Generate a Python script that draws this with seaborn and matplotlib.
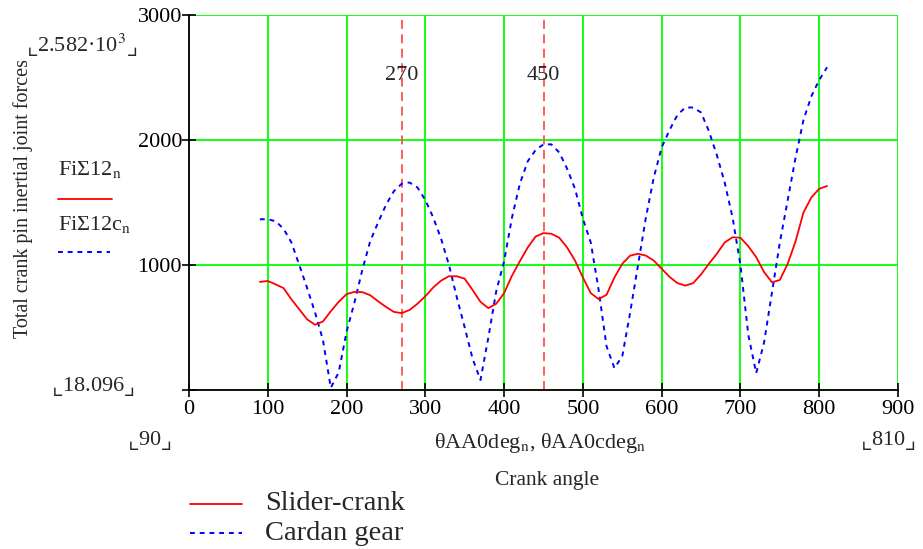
import pandas as pd
import matplotlib
matplotlib.use('Agg')  # no display
import matplotlib.pyplot as plt
from matplotlib.lines import Line2D
import seaborn as sns

# =========================
# Data
# =========================
angle = list(range(90, 811, 10))

slider_crank = [865, 872, 845, 815, 725, 645, 565, 522, 548, 630,
                705, 767, 785, 783, 758, 710, 665, 625, 615, 640,
                690, 750, 820, 875, 910, 910, 890, 800, 705, 655,
                690, 775, 915, 1030, 1140, 1228, 1255, 1250, 1218, 1140,
                1035, 900, 775, 727, 762, 900, 1010, 1075, 1090, 1075,
                1035, 970, 905, 855, 835, 855, 925, 1010, 1090, 1180,
                1222, 1218, 1150, 1063, 943, 862, 880, 1010, 1190, 1420,
                1540, 1610, 1632]

cardan_gear = [1366, 1366, 1350, 1290, 1180, 1000, 815, 620, 400, 18,
               140, 465, 700, 960, 1190, 1340, 1480, 1590, 1650, 1660,
               1620, 1520, 1380, 1210, 1000, 740, 500, 250, 80, 420,
               790, 1030, 1380, 1650, 1830, 1920, 1965, 1965, 1900, 1770,
               1610, 1370, 1180, 800, 350, 175, 270, 620, 1000, 1380,
               1700, 1940, 2080, 2200, 2260, 2260, 2220, 2070, 1880, 1660,
               1380, 1000, 440, 135, 380, 780, 1180, 1520, 1860, 2160,
               2350, 2480, 2582]

marker_angles = [270, 450]
x_ticks = [0, 100, 200, 300, 400, 500, 600, 700, 800, 900]
y_ticks = [0, 1000, 2000, 3000]
y_tick_labels = ['', '1000', '2000', '3000']

RED = '#ff0000'
BLUE = '#0000ff'
GREEN = '#00ff00'

# =========================
# Style
# =========================
sns.set_style('white')
plt.rcParams['font.family'] = ['Liberation Serif', 'DejaVu Sans']
plt.rcParams['mathtext.fontset'] = 'stix'

W, H = 923, 549
fig = plt.figure(figsize=(W / 100, H / 100), dpi=100)
ax = fig.add_axes([189 / W, 1 - 390 / H, (898 - 189) / W, (390 - 15) / H])


def fx(px):
    return px / W


def fy(py):
    return 1 - py / H


df = pd.DataFrame({'angle': angle, 'slider': slider_crank, 'cardan': cardan_gear})

sns.lineplot(data=df, x='angle', y='slider', ax=ax, color=RED, lw=1.3,
             estimator=None, sort=False, zorder=4)
sns.lineplot(data=df, x='angle', y='cardan', ax=ax, color=BLUE, lw=1.4,
             linestyle=(0, (2.5, 2.5)), estimator=None, sort=False, zorder=3)

for a in marker_angles:
    ax.axvline(a, color='#ff5050', lw=1.3, ls=(0, (5, 3)), zorder=2)
    ax.text(a, 2516, str(a), ha='center', va='center', fontsize=16)

ax.set_xlim(0, 900)
ax.set_ylim(0, 3000)
ax.set_xticks(x_ticks)
ax.set_yticks(y_ticks)
ax.set_yticklabels(y_tick_labels)
ax.grid(True, color=GREEN, lw=1.3)
ax.set_axisbelow(True)
for s in ['top', 'right']:
    ax.spines[s].set_visible(False)
for s in ['left', 'bottom']:
    ax.spines[s].set_color('black')
    ax.spines[s].set_linewidth(1.3)
ax.tick_params(direction='inout', length=10, width=1.2, colors='black',
               labelsize=16, left=True, bottom=True)
ax.tick_params(axis='x', pad=2)
ax.tick_params(axis='y', pad=0)
ax.set_xlabel('')
ax.set_ylabel('')

# =========================
# Mathcad-style annotations
# =========================
sub_n = '$_{\\mathrm{n}}$'
fig.text(fx(137), fy(45), '$\\llcorner$2.582\u00b710$^{3}$$\\lrcorner$',
         ha='right', va='center', fontsize=16)
fig.text(fx(135), fy(386), '$\\llcorner$18.096$\\lrcorner$', ha='right', va='center', fontsize=16)
fig.text(fx(23), fy(199), 'Total crank pin inertial joint forces', rotation=90,
         ha='center', va='center', fontsize=14.5)

fig.text(fx(58), fy(170), 'Fi\u03a312' + sub_n, ha='left', va='center', fontsize=16)
fig.add_artist(Line2D([fx(58), fx(112)], [fy(199), fy(199)], color=RED, lw=1.3))
fig.text(fx(58), fy(224), 'Fi\u03a312c' + sub_n, ha='left', va='center', fontsize=16)
fig.add_artist(Line2D([fx(58), fx(110)], [fy(252), fy(252)], color=BLUE, lw=1.4,
                      ls=(0, (2.5, 2.5))))

fig.text(fx(150), fy(440), '$\\llcorner$90$\\lrcorner$', ha='center', va='center', fontsize=16)
fig.text(fx(888), fy(440), '$\\llcorner$810$\\lrcorner$', ha='center', va='center', fontsize=16)
fig.text(fx(540), fy(443), '\u03b8AA0deg' + sub_n + ', \u03b8AA0cdeg' + sub_n,
         ha='center', va='center', fontsize=16)
fig.text(fx(547), fy(480), 'Crank angle', ha='center', va='center', fontsize=15.5)

# bottom legend
fig.add_artist(Line2D([fx(190), fx(242)], [fy(504), fy(504)], color=RED, lw=1.3))
fig.text(fx(265), fy(504), 'Slider-crank', ha='left', va='center', fontsize=20.5)
fig.add_artist(Line2D([fx(190), fx(242)], [fy(533), fy(533)], color=BLUE, lw=1.4,
                      ls=(0, (2.5, 2.5))))
fig.text(fx(265), fy(533), 'Cardan gear', ha='left', va='center', fontsize=20.5)

fig.savefig('out.png', dpi=100)
